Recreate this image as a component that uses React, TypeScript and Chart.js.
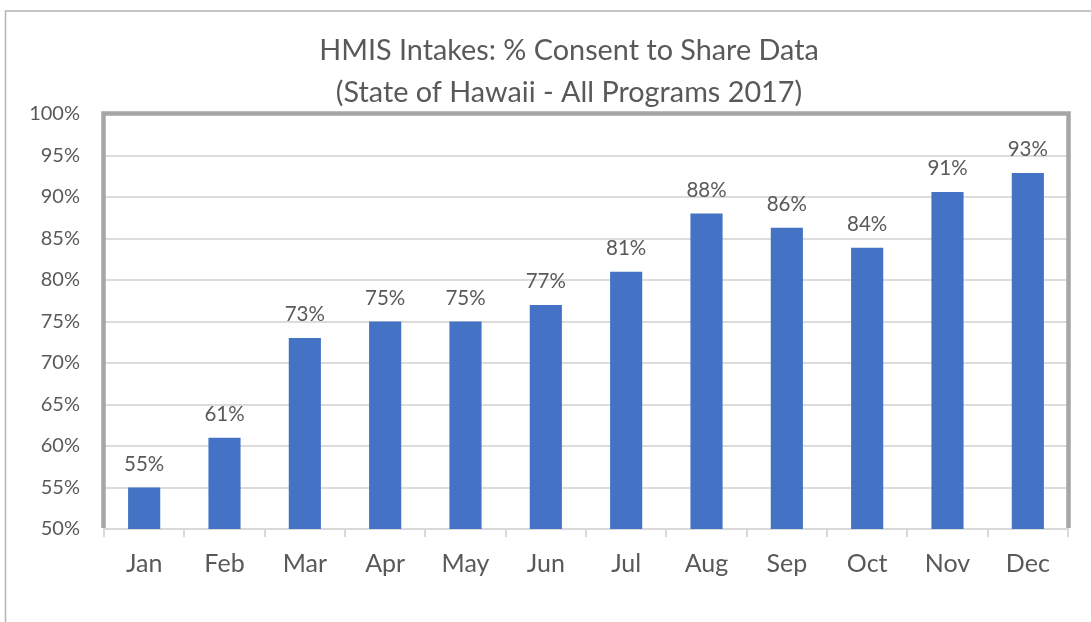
import { useEffect, useRef } from 'react';
import { Chart, registerables } from 'chart.js';

Chart.register(...registerables);

const categories = ['Jan', 'Feb', 'Mar', 'Apr', 'May', 'Jun', 'Jul', 'Aug', 'Sep', 'Oct', 'Nov', 'Dec'];
const consentPct = [55, 61, 73, 75, 75, 77, 81, 88, 86.3, 83.9, 90.6, 92.9];
const titleLines = ['HMIS Intakes: % Consent to Share Data', '(State of Hawaii - All Programs 2017)'];
const yMin = 50;
const yMax = 100;
const yStep = 5;

const FONT = 'Lato, "Open Sans", sans-serif';
const TEXT = '#595959';

export default function App() {
  const ref = useRef<HTMLCanvasElement>(null);

  useEffect(() => {
    const canvas = ref.current;
    if (!canvas) return;

    const decor = {
      id: 'decor',
      beforeDraw(chart: any) {
        const ctx = chart.ctx;
        ctx.save();
        // outer chart frame
        ctx.strokeStyle = '#B3B3B3';
        ctx.lineWidth = 1.5;
        ctx.beginPath();
        ctx.moveTo(5.5, 640);
        ctx.lineTo(5.5, 11);
        ctx.lineTo(1100, 11);
        ctx.stroke();
        // title
        ctx.fillStyle = TEXT;
        ctx.font = `28.8px ${FONT}`;
        ctx.textAlign = 'center';
        ctx.textBaseline = 'alphabetic';
        ctx.fillText(titleLines[0], 569, 60);
        ctx.fillText(titleLines[1], 569, 101.7);
        ctx.restore();
      },
      afterDraw(chart: any) {
        const ctx = chart.ctx;
        const a = chart.chartArea;
        ctx.save();
        // plot area border (left, top, right)
        ctx.strokeStyle = '#A6A6A6';
        ctx.lineWidth = 4.5;
        ctx.lineJoin = 'miter';
        ctx.beginPath();
        ctx.moveTo(a.left - 0.5, a.bottom - 1);
        ctx.lineTo(a.left - 0.5, a.top - 0.5);
        ctx.lineTo(a.right + 0.5, a.top - 0.5);
        ctx.lineTo(a.right + 0.5, a.bottom - 1);
        ctx.stroke();
        // data labels
        const meta = chart.getDatasetMeta(0);
        const data = chart.data.datasets[0].data as number[];
        ctx.fillStyle = TEXT;
        ctx.font = `20.5px ${FONT}`;
        ctx.textAlign = 'center';
        ctx.textBaseline = 'alphabetic';
        meta.data.forEach((bar: any, i: number) => {
          ctx.fillText(`${Math.round(data[i])}%`, bar.x, bar.y - 17);
        });
        ctx.restore();
      },
    };

    const chart = new Chart(canvas, {
      type: 'bar',
      data: {
        labels: categories,
        datasets: [
          {
            data: consentPct,
            backgroundColor: '#4472C4',
            borderWidth: 0,
            barPercentage: 0.4,
            categoryPercentage: 1,
          },
        ],
      },
      options: {
        responsive: false,
        animation: false,
        events: [],
        layout: { padding: { left: 0, top: 114, right: 23, bottom: 33 } },
        plugins: {
          legend: { display: false },
          title: { display: false },
          tooltip: { enabled: false },
        },
        scales: {
          x: {
            offset: true,
            grid: {
              offset: true,
              drawOnChartArea: false,
              drawTicks: true,
              tickLength: 8,
              color: '#D9D9D9',
              lineWidth: 2,
            },
            border: { display: true, color: '#D9D9D9', width: 2 },
            ticks: {
              color: TEXT,
              font: { family: FONT, size: 25 },
              padding: 11.5,
              maxRotation: 0,
            },
            afterFit: (s: any) => {
              s.height = 60;
            },
          },
          y: {
            min: yMin,
            max: yMax,
            grid: {
              drawTicks: false,
              color: '#DCDCDC',
              lineWidth: 2,
            },
            border: { display: false },
            ticks: {
              stepSize: yStep,
              color: TEXT,
              font: { family: FONT, size: 20 },
              padding: 24,
              callback: (v: any) => `${v}%`,
            },
            afterFit: (s: any) => {
              s.width = 104;
            },
          },
        },
      },
      plugins: [decor],
    });

    return () => chart.destroy();
  }, []);

  return (
    <div style={{ position: 'fixed', left: 0, top: 0, width: 1091, height: 622, background: '#fff', overflow: 'hidden' }}>
      <canvas ref={ref} width={1091} height={622} style={{ display: 'block', width: 1091, height: 622 }} />
    </div>
  );
}
